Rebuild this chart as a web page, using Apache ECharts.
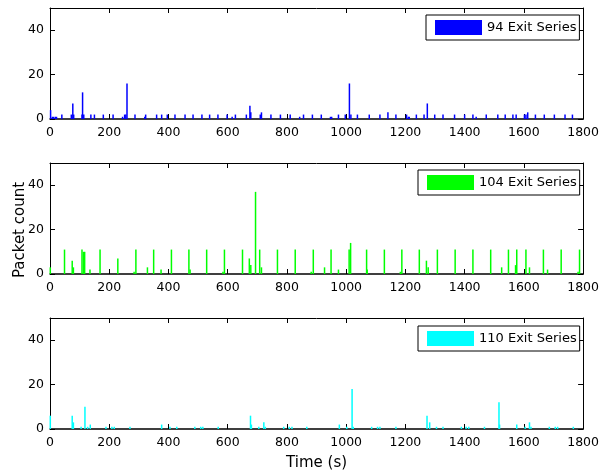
<!DOCTYPE html>
<html>
<head>
<meta charset="utf-8">
<script src="https://cdn.jsdelivr.net/npm/echarts@6/dist/echarts.min.js"></script>
<style>
html,body{margin:0;padding:0;background:#fff;}
#chart{width:602px;height:473px;}
</style>
</head>
<body>
<div id="chart"></div>
<script>
// ---- data ----
const seriesNames = ['94 Exit Series', '104 Exit Series', '110 Exit Series'];
const seriesColors = ['#0000ff', '#00ff00', '#00ffff'];
const xTicks = [0, 200, 400, 600, 800, 1000, 1200, 1400, 1600, 1800];
const yTicks = [0, 20, 40];

const times94 = [2, 8, 12, 18, 22, 40, 72, 77, 80, 108, 110, 114, 138, 150, 180, 213, 245, 252, 256, 260, 287, 320, 323, 360, 377, 396, 422, 456, 483, 513, 539, 567, 598, 615, 626, 663, 675, 678, 710, 714, 746, 778, 811, 843, 856, 886, 916, 947, 951, 974, 997, 1011, 1016, 1038, 1078, 1114, 1141, 1168, 1204, 1210, 1213, 1237, 1263, 1274, 1299, 1327, 1366, 1400, 1428, 1439, 1473, 1512, 1537, 1563, 1574, 1602, 1607, 1613, 1639, 1669, 1703, 1739, 1764];
const counts94 = [4, 1, 1, 1, 1, 2, 2, 7, 2, 2, 12, 2, 2, 2, 2, 2, 1, 2, 2, 16, 2, 1, 2, 2, 2, 2, 2, 2, 2, 2, 2, 2, 2, 1, 2, 2, 6, 3, 2, 3, 2, 2, 2, 1, 2, 2, 2, 1, 1, 2, 2, 16, 2, 2, 2, 2, 3, 2, 2, 1, 1, 2, 2, 7, 2, 2, 2, 2, 2, 1, 2, 2, 2, 2, 2, 2, 2, 3, 2, 2, 2, 2, 2];

const times104 = [1, 49, 75, 79, 108, 113, 117, 135, 169, 229, 284, 290, 329, 350, 375, 410, 469, 473, 529, 584, 589, 650, 673, 678, 694, 708, 714, 768, 828, 882, 889, 927, 949, 974, 1010, 1015, 1069, 1071, 1129, 1183, 1188, 1247, 1271, 1277, 1308, 1368, 1428, 1488, 1525, 1548, 1572, 1576, 1607, 1619, 1666, 1680, 1726, 1783, 1788];
const counts104 = [3, 11, 6, 3, 11, 10, 10, 2, 11, 7, 1, 11, 3, 11, 2, 11, 11, 2, 11, 1, 11, 11, 7, 4, 37, 11, 3, 11, 11, 1, 11, 3, 11, 2, 11, 14, 11, 2, 11, 1, 11, 11, 6, 3, 11, 11, 11, 11, 3, 11, 4, 11, 11, 3, 11, 2, 11, 1, 11];

const times110 = [1, 75, 79, 105, 118, 127, 136, 189, 209, 217, 270, 377, 405, 428, 489, 509, 516, 568, 677, 680, 705, 722, 727, 789, 808, 817, 867, 977, 1002, 1020, 1024, 1086, 1106, 1114, 1168, 1273, 1282, 1305, 1327, 1389, 1405, 1414, 1467, 1516, 1518, 1576, 1604, 1619, 1624, 1686, 1706, 1714, 1767];
const counts110 = [6, 6, 3, 1, 10, 1, 2, 1, 1, 1, 1, 2, 1, 1, 1, 1, 1, 1, 6, 2, 1, 3, 1, 1, 1, 1, 1, 2, 1, 18, 1, 1, 1, 1, 1, 6, 3, 1, 1, 1, 1, 1, 1, 12, 2, 2, 1, 3, 1, 1, 1, 1, 1];

const allTimes = [times94, times104, times110];
const allCounts = [counts94, counts104, counts110];

// ---- layout ----
const FONT = 'DejaVu Sans';
const gridTops = [8, 163, 318];
const gridH = 111;
const legendPos = [[426, 15], [418, 170], [418, 326]];

const grids = [], xAxes = [], yAxes = [], series = [], legends = [];
const xMin = xTicks[0], xMax = xTicks[xTicks.length - 1], xInt = xTicks[1] - xTicks[0];
const yMin = yTicks[0], yInt = yTicks[1] - yTicks[0], yMax = 50;

for (let i = 0; i < 3; i++) {
  grids.push({left: 50, right: 17, top: gridTops[i], height: gridH, containLabel: false});
  // bottom x axis
  xAxes.push({
    type: 'value', gridIndex: i, min: xMin, max: xMax, interval: xInt, position: 'bottom',
    axisLine: {show: true, onZero: false, lineStyle: {color: '#000', width: 1.5}},
    axisTick: {show: true, inside: true, length: 5, lineStyle: {color: '#000'}},
    axisLabel: {show: true, color: '#000', fontFamily: FONT, fontSize: 12.5, margin: 7,
      formatter: v => String(v)},
    splitLine: {show: false},
    name: i === 2 ? 'Time (s)' : '', nameLocation: 'middle', nameGap: 27,
    nameTextStyle: {color: '#000', fontFamily: FONT, fontSize: 15}
  });
  // top x axis (frame)
  xAxes.push({
    type: 'value', gridIndex: i, min: xMin, max: xMax, interval: xInt, position: 'top',
    axisLine: {show: true, onZero: false, lineStyle: {color: '#000', width: 1}},
    axisTick: {show: true, inside: true, length: 5, lineStyle: {color: '#000'}},
    axisLabel: {show: false}, splitLine: {show: false}
  });
  // left y axis
  yAxes.push({
    type: 'value', gridIndex: i, min: yMin, max: yMax, interval: yInt, position: 'left',
    axisLine: {show: true, onZero: false, lineStyle: {color: '#000', width: 1}},
    axisTick: {show: true, inside: true, length: 5, lineStyle: {color: '#000'}},
    axisLabel: {show: true, color: '#000', fontFamily: FONT, fontSize: 12.5, margin: 6, showMaxLabel: false,
      formatter: v => String(v)},
    splitLine: {show: false}
  });
  // right y axis (frame)
  yAxes.push({
    type: 'value', gridIndex: i, min: yMin, max: yMax, interval: yInt, position: 'right',
    axisLine: {show: true, onZero: false, lineStyle: {color: '#000', width: 1}},
    axisTick: {show: true, inside: true, length: 5, lineStyle: {color: '#000'}},
    axisLabel: {show: false}, splitLine: {show: false}
  });
  const data = allTimes[i].map((t, k) => [t, allCounts[i][k]]);
  series.push({
    name: seriesNames[i], type: 'bar', xAxisIndex: i * 2, yAxisIndex: i * 2,
    data: data, barWidth: 1.5, barGap: '-100%', itemStyle: {color: seriesColors[i]},
    animation: false, clip: true
  });
  legends.push({
    data: [{name: seriesNames[i], icon: 'rect'}],
    left: legendPos[i][0], top: legendPos[i][1],
    orient: 'horizontal', itemWidth: 47, itemHeight: 15, itemGap: 5,
    padding: [5, 3, 5, 9], backgroundColor: '#fff', borderColor: '#000', borderWidth: 1,
    borderRadius: 0, selectedMode: false,
    textStyle: {color: '#000', fontFamily: FONT, fontSize: 13, padding: [0, 0, 0, 0]}
  });
}

const chart = echarts.init(document.getElementById('chart'), null, {renderer: 'canvas'});
chart.setOption({
  backgroundColor: '#fff',
  animation: false,
  grid: grids, xAxis: xAxes, yAxis: yAxes, series: series, legend: legends,
  graphic: [{
    type: 'text', x: 20, y: 230, rotation: Math.PI / 2,
    style: {text: 'Packet count', fill: '#000', font: '15px "DejaVu Sans"', align: 'center', verticalAlign: 'middle'}
  }]
});
</script>
</body>
</html>
